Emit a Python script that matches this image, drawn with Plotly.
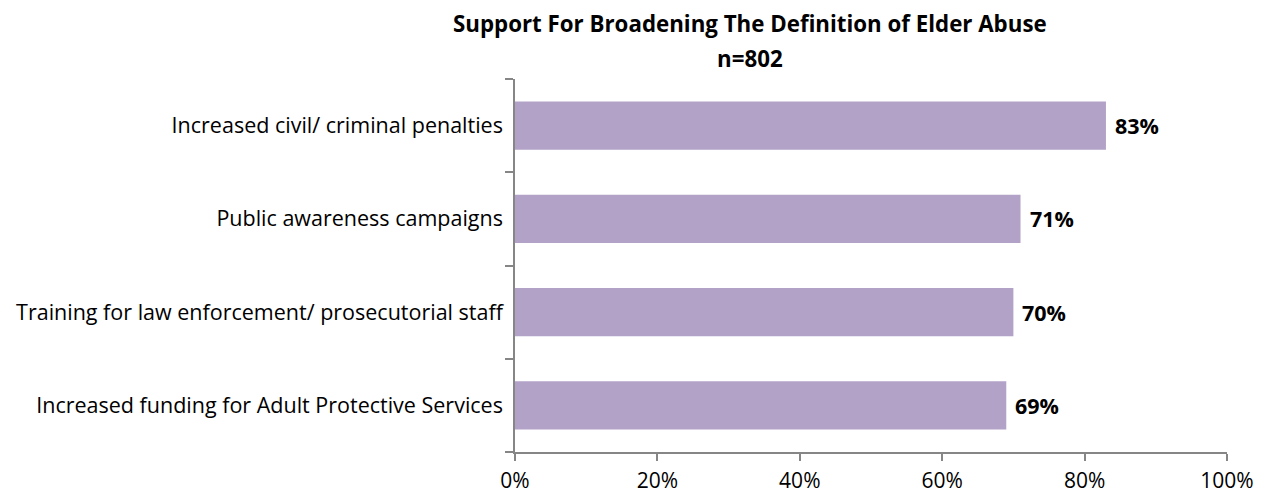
import plotly.graph_objects as go

categories = [
    "Increased civil/ criminal penalties",
    "Public awareness campaigns",
    "Training for law enforcement/ prosecutorial staff",
    "Increased funding for Adult Protective Services",
]
values = [0.83, 0.71, 0.70, 0.69]
labels = ["83%", "71%", "70%", "69%"]
x_ticks = [0, 0.2, 0.4, 0.6, 0.8, 1.0]
x_tick_text = ["0%", "20%", "40%", "60%", "80%", "100%"]
title_lines = ["Support For Broadening The Definition of Elder Abuse", "n=802"]

FONT = "Open Sans, sans-serif"
AXIS_COL = "#868686"

fig = go.Figure(
    go.Bar(
        y=categories,
        x=values,
        orientation="h",
        marker=dict(color="#b3a2c7", line=dict(width=0)),
        hoverinfo="skip",
    )
)

for c, v, t in zip(categories, values, labels):
    fig.add_annotation(
        x=v, y=c, xref="x", yref="y", text="<b>" + t + "</b>",
        showarrow=False, xanchor="left", xshift=7,
        font=dict(family=FONT, size=21.5, color="#000000"),
    )

for line, ypos in zip(title_lines, [1.15, 1.056]):
    fig.add_annotation(
        x=0.33, y=ypos, xref="paper", yref="paper", text="<b>" + line + "</b>",
        showarrow=False, xanchor="center", yanchor="middle",
        font=dict(family=FONT, size=22.3, color="#000000"),
    )

fig.update_layout(
    width=1265, height=495,
    margin=dict(l=515, r=38, t=79, b=43),
    paper_bgcolor="white", plot_bgcolor="white",
    bargap=0.48,
    showlegend=False,
    font=dict(family=FONT, size=21.5, color="#000000"),
    xaxis=dict(
        range=[0, 1], tickvals=x_ticks, ticktext=x_tick_text,
        showgrid=False, zeroline=False, automargin=False,
        showline=True, linecolor=AXIS_COL, linewidth=1.5,
        ticks="outside", ticklen=7, tickcolor=AXIS_COL, tickwidth=1.5,
        tickfont=dict(family=FONT, size=21, color="#000000"),
        ticklabelstandoff=2,
    ),
    yaxis=dict(
        categoryorder="array", categoryarray=categories[::-1],
        showgrid=False, zeroline=False, automargin=False,
        showline=True, linecolor=AXIS_COL, linewidth=1.5,
        ticks="outside", ticklen=8, tickcolor=AXIS_COL, tickwidth=1.5,
        tickson="boundaries",
        tickfont=dict(family=FONT, size=21.5, color="#000000"),
        ticklabelstandoff=6,
    ),
)

fig.write_html("out.html")
